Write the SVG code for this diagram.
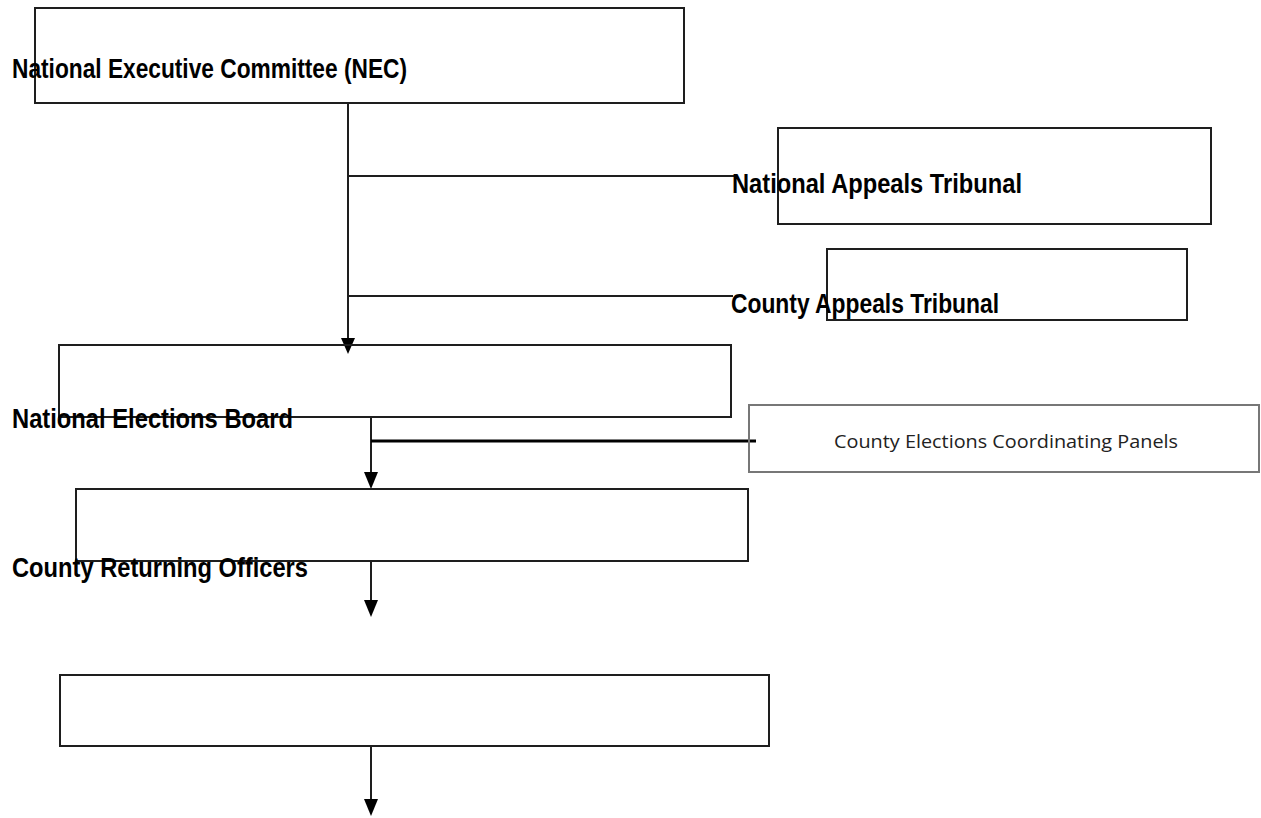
<svg xmlns="http://www.w3.org/2000/svg" width="1261" height="818" viewBox="0 0 1261 818">
<style>
.box{fill:none;stroke:#1e1e1e;stroke-width:2}
.lbl{font-family:"Liberation Sans",Arial,sans-serif;font-weight:bold;font-size:28px;fill:#000}
.ln{stroke:#1e1e1e;stroke-width:2;fill:none}
.ah{fill:#000}
</style>
<rect width="1261" height="818" fill="#fff"/>
<g id="connectors">
<line class="ln" x1="348" y1="103" x2="348" y2="342"/>
<polygon class="ah" points="341,338 355,338 348,354"/>
<line class="ln" x1="348" y1="176" x2="734" y2="176"/>
<line class="ln" x1="348" y1="296" x2="733" y2="296"/>
<line class="ln" x1="371" y1="417" x2="371" y2="476"/>
<polygon class="ah" points="364,472 378,472 371,489"/>
<line x1="371" y1="441" x2="756" y2="441" stroke="#000" stroke-width="3"/>
<line class="ln" x1="371" y1="561" x2="371" y2="604"/>
<polygon class="ah" points="364,600 378,600 371,617"/>
<line class="ln" x1="371" y1="746" x2="371" y2="803"/>
<polygon class="ah" points="364,799 378,799 371,816"/>
</g>
<g id="nec">
<rect class="box" x="35" y="8" width="649" height="95"/>
<text class="lbl" x="12" y="78" textLength="395" lengthAdjust="spacingAndGlyphs">National Executive Committee (NEC)</text>
</g>
<g id="nat">
<rect class="box" x="778" y="128" width="433" height="96"/>
<text class="lbl" x="732" y="193" textLength="290" lengthAdjust="spacingAndGlyphs">National Appeals Tribunal</text>
</g>
<g id="cat">
<rect class="box" x="827" y="249" width="360" height="71"/>
<text class="lbl" x="731" y="313" textLength="268" lengthAdjust="spacingAndGlyphs">County Appeals Tribunal</text>
</g>
<g id="neb">
<rect class="box" x="59" y="345" width="672" height="72"/>
<text class="lbl" x="12" y="428" textLength="281" lengthAdjust="spacingAndGlyphs">National Elections Board</text>
</g>
<g id="cecp">
<rect x="749" y="405" width="510" height="67" fill="none" stroke="#777" stroke-width="2"/>
<text x="834" y="448" textLength="344" lengthAdjust="spacingAndGlyphs" font-family="'Open Sans','Liberation Sans',sans-serif" font-size="19" fill="#222">County Elections Coordinating Panels</text>
</g>
<g id="cro">
<rect class="box" x="76" y="489" width="672" height="72"/>
<text class="lbl" x="12" y="577" textLength="296" lengthAdjust="spacingAndGlyphs">County Returning Officers</text>
</g>
<g id="box5">
<rect class="box" x="60" y="675" width="709" height="71"/>
</g>
</svg>
